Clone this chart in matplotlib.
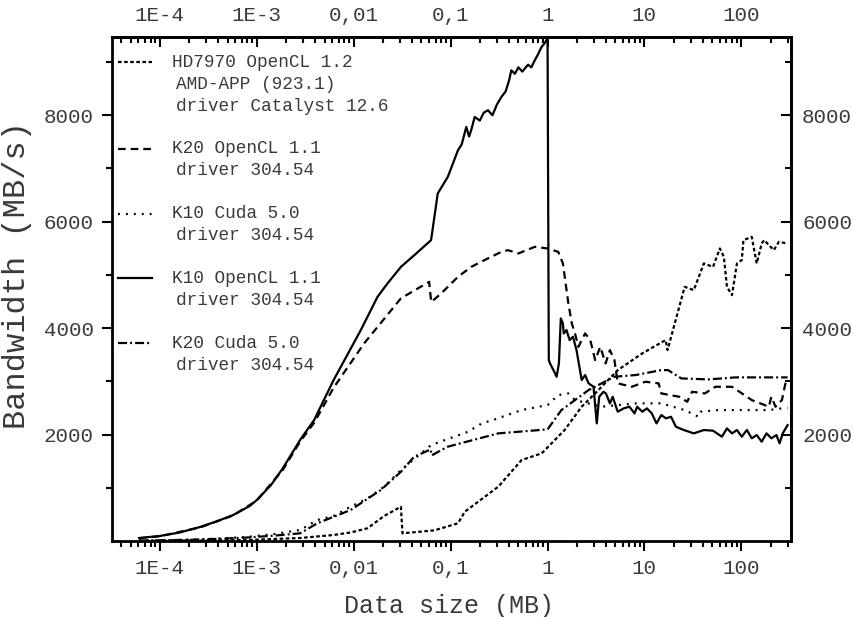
import matplotlib
matplotlib.use("Agg")
import matplotlib.pyplot as plt
from matplotlib.ticker import FixedLocator, FixedFormatter, LogLocator, NullFormatter

plt.rcParams['font.family'] = ['Liberation Mono', 'DejaVu Sans Mono']
plt.rcParams['lines.scale_dashes'] = False

# bandwidth (MB/s) against transfer size (MB)
hd7970_x = [6.1e-5, 1e-4, 3e-4, 1e-3, 2.8e-3, 6.2e-3, 9.3e-3, 0.0139, 0.0206, 0.0307,
            0.0318, 0.068, 0.119, 0.14, 0.31, 0.54, 0.87, 1.5, 2.25, 3.35, 5.3, 9.5,
            16.5, 17.3, 26, 32.3, 41, 51, 60, 66, 71, 80, 90, 101, 105, 128, 144,
            162, 172, 216, 244, 300]
hd7970_y = [2, 4, 10, 25, 56, 113, 160, 240, 470, 644,
            144, 200, 332, 550, 1020, 1521, 1647, 2085, 2523, 2836, 3211, 3525,
            3775, 3587, 4776, 4714, 5215, 5151, 5497, 5340, 4776, 4620, 5215, 5277, 5653, 5715, 5215,
            5590, 5653, 5465, 5621, 5590]

k20_ocl_x = [6.1e-5, 1e-4, 2.6e-4, 5.7e-4, 1e-3, 1.86e-3, 2.8e-3, 3.9e-3, 6.2e-3, 0.0128,
             0.0307, 0.060, 0.063, 0.0798, 0.119, 0.163, 0.223, 0.334, 0.39, 0.50, 0.738,
             1.0, 1.29, 1.44, 1.64, 1.78, 1.92, 2.08, 2.44, 2.76, 3.1, 3.5, 3.97, 4.4,
             4.9, 5.3, 7.4, 10.2, 14, 14.9, 22.9, 27.6, 31, 42, 54, 80, 128, 192, 204,
             225, 262, 290]
k20_ocl_y = [50, 90, 255, 480, 760, 1340, 1870, 2220, 2880, 3713,
             4560, 4870, 4490, 4651, 4964, 5151, 5277, 5433, 5465, 5403, 5527,
             5497, 5433, 5215, 4464, 4088, 3900, 3649, 3900, 3775, 3399, 3649, 3337, 3587,
             3399, 2962, 2898, 2992, 2962, 2773, 2710, 2616, 2804, 2773, 2898, 2898, 2648, 2523, 2710,
             2523, 2648, 3030]

k10_cuda_x = [6.1e-5, 1e-4, 2e-4, 4e-4, 7.9e-4, 1.5e-3, 2.8e-3, 4.2e-3, 6.2e-3, 9.3e-3,
              0.0139, 0.0206, 0.0307, 0.063, 0.15, 0.21, 0.28, 0.54, 1.0, 1.29, 1.64,
              1.92, 3.6, 8.1, 14.9, 26, 36, 38, 58, 192, 262, 300]
k10_cuda_y = [8, 12, 25, 45, 75, 130, 207, 394, 470, 644,
              800, 1020, 1333, 1803, 2050, 2210, 2280, 2460, 2554, 2742, 2773,
              2648, 2523, 2586, 2586, 2460, 2335, 2429, 2460, 2460, 2492, 2500]

k10_ocl_x = [6.1e-5, 1e-4, 1.6e-4, 2.6e-4, 4e-4, 5.7e-4, 8.5e-4, 1e-3, 1.4e-3, 1.86e-3,
             2.8e-3, 3.9e-3, 6.2e-3, 0.0118, 0.0176, 0.0223, 0.0307, 0.0422, 0.0628,
             0.068, 0.0736, 0.0935, 0.119, 0.13, 0.145, 0.155, 0.163, 0.177, 0.2, 0.22,
             0.243, 0.27, 0.3, 0.334, 0.37, 0.4, 0.423, 0.46, 0.5, 0.55, 0.582, 0.63,
             0.68, 0.738, 0.8, 0.867, 0.93, 1.0, 1.03, 1.06, 1.15, 1.24, 1.31, 1.37,
             1.44, 1.47, 1.57, 1.69, 1.83, 1.99, 2.25, 2.44, 2.65, 2.98, 3.22, 3.41,
             3.78, 4.0, 4.4, 4.7, 5.3, 6.1, 7.0, 7.9, 8.4, 9.5, 10.6, 11.9, 13.3, 14.9,
             16.7, 18.8, 21.1, 25.5, 32.3, 41, 51, 63, 71, 80, 90, 101, 114, 128, 144,
             162, 182, 204, 230, 248, 267, 300]
k10_ocl_y = [56, 94, 160, 263, 380, 488, 660, 770, 1050, 1370,
             1900, 2272, 3024, 3960, 4588, 4839, 5151, 5371, 5653,
             6090, 6530, 6842, 7343, 7450, 7781, 7600, 7719, 7968, 7900, 8050,
             8094, 8000, 8200, 8344, 8450, 8650, 8845, 8780, 8900, 8820, 8877, 8950,
             8900, 9033, 9150, 9283, 9350, 9450, 3400, 3337, 3211, 3086, 3337, 4182,
             4088, 3900, 3963, 3775, 3837, 3587, 3024, 3118, 2962, 2898, 2210, 2710,
             2804, 2773, 2586, 2710, 2429, 2492, 2523, 2398, 2523, 2429, 2492, 2398, 2210, 2366,
             2304, 2335, 2147, 2085, 2022, 2085, 2072, 1960, 2116, 2022, 2085, 1960, 2085, 1929, 1991,
             1866, 2022, 1929, 1991, 1835, 2022, 2178]

k20_cuda_x = [6.1e-5, 1e-4, 2e-4, 4e-4, 7.9e-4, 1.5e-3, 2.8e-3, 4.2e-3, 9.3e-3, 0.019,
              0.0307, 0.042, 0.062, 0.064, 0.093, 0.31, 1.0, 1.39, 1.92, 2.65, 4.9,
              8.1, 14.9, 17.5, 24, 46, 87, 300]
k20_cuda_y = [8, 12, 22, 40, 65, 100, 144, 332, 582, 958,
              1300, 1583, 1720, 1610, 1771, 2022, 2097, 2460, 2648, 2836, 3086,
              3118, 3211, 3211, 3055, 3036, 3074, 3074]

x_ticks = [1e-4, 1e-3, 1e-2, 1e-1, 1, 10, 100]
x_tick_labels = ['1E-4', '1E-3', '0,01', '0,1', '1', '10', '100']

legend_entries = [
    ['HD7970 OpenCL 1.2', 'AMD-APP (923.1)', 'driver Catalyst 12.6'],
    ['K20 OpenCL 1.1', 'driver 304.54'],
    ['K10 Cuda 5.0', 'driver 304.54'],
    ['K10 OpenCL 1.1', 'driver 304.54'],
    ['K20 Cuda 5.0', 'driver 304.54'],
]

styles = [
    dict(linestyle=(0, (2.6, 1.8))),
    dict(linestyle=(0, (5.5, 3.6))),
    dict(linestyle=(0, (1.4, 4.3))),
    dict(linestyle='-'),
    dict(linestyle=(0, (6.5, 2.2, 1.4, 2.2))),
]
series = [(hd7970_x, hd7970_y), (k20_ocl_x, k20_ocl_y), (k10_cuda_x, k10_cuda_y),
          (k10_ocl_x, k10_ocl_y), (k20_cuda_x, k20_cuda_y)]

fig = plt.figure(figsize=(8.54, 6.17), dpi=100)
ax = fig.add_axes([0.1311, 0.1232, 0.9262 - 0.1311, 0.94 - 0.1232])

for (xs, ys), st in zip(series, styles):
    ax.plot(xs, ys, color='black', lw=1.6, **st)

ax.set_xscale('log')
ax.set_xlim(3.2e-5, 325)
ax.set_ylim(0, 9470)

for sp in ax.spines.values():
    sp.set_linewidth(2.0)

text_color = '#3a3a3a'

# legend drawn by hand so the line sits beside the first text row
line_h = 0.0437
y0 = 0.950
for entry, st in zip(legend_entries, styles):
    ax.plot([0.009, 0.059], [y0, y0], transform=ax.transAxes, color='black',
            lw=1.6, **st)
    for i, txt in enumerate(entry):
        ax.text(0.088 if i == 0 else 0.095, y0 - i * line_h, txt,
                transform=ax.transAxes, fontsize=12.8, va='center', ha='left',
                color=text_color)
    y0 -= len(entry) * line_h + 0.041

ax.xaxis.set_major_locator(FixedLocator(x_ticks))
ax.xaxis.set_major_formatter(FixedFormatter(x_tick_labels))
ax.xaxis.set_minor_locator(LogLocator(base=10, subs=range(2, 10), numticks=20))
ax.xaxis.set_minor_formatter(NullFormatter())
ax.yaxis.set_major_locator(FixedLocator([2000, 4000, 6000, 8000]))
ax.yaxis.set_minor_locator(FixedLocator([1000, 3000, 5000, 7000, 9000]))
ax.tick_params(which='major', direction='out', length=7, width=1.5,
               labelsize=15, labelcolor=text_color, pad=6)
ax.tick_params(which='minor', direction='out', length=4, width=1.5)

top = ax.secondary_xaxis('top')
top.xaxis.set_major_locator(FixedLocator(x_ticks))
top.xaxis.set_major_formatter(FixedFormatter(x_tick_labels))
top.xaxis.set_minor_locator(LogLocator(base=10, subs=range(2, 10), numticks=20))
top.xaxis.set_minor_formatter(NullFormatter())
top.tick_params(which='major', direction='in', length=7, width=1.5,
                labelsize=15, labelcolor=text_color, pad=9)
top.tick_params(which='minor', direction='in', length=4, width=1.5)
top.spines['top'].set_linewidth(2.0)

right = ax.secondary_yaxis('right')
right.yaxis.set_major_locator(FixedLocator([2000, 4000, 6000, 8000]))
right.yaxis.set_minor_locator(FixedLocator([1000, 3000, 5000, 7000, 9000]))
right.tick_params(which='major', direction='in', length=7, width=1.5,
                  labelsize=15, labelcolor=text_color, pad=8)
right.tick_params(which='minor', direction='in', length=4, width=1.5)
right.spines['right'].set_linewidth(2.0)

ax.set_xlabel('Data size (MB)', fontsize=18, color=text_color)
ax.set_ylabel('Bandwidth (MB/s)', fontsize=23, color=text_color)
ax.xaxis.set_label_coords(0.496, -0.105)
ax.yaxis.set_label_coords(-0.118, 0.528)

fig.savefig('out.png', dpi=100)
